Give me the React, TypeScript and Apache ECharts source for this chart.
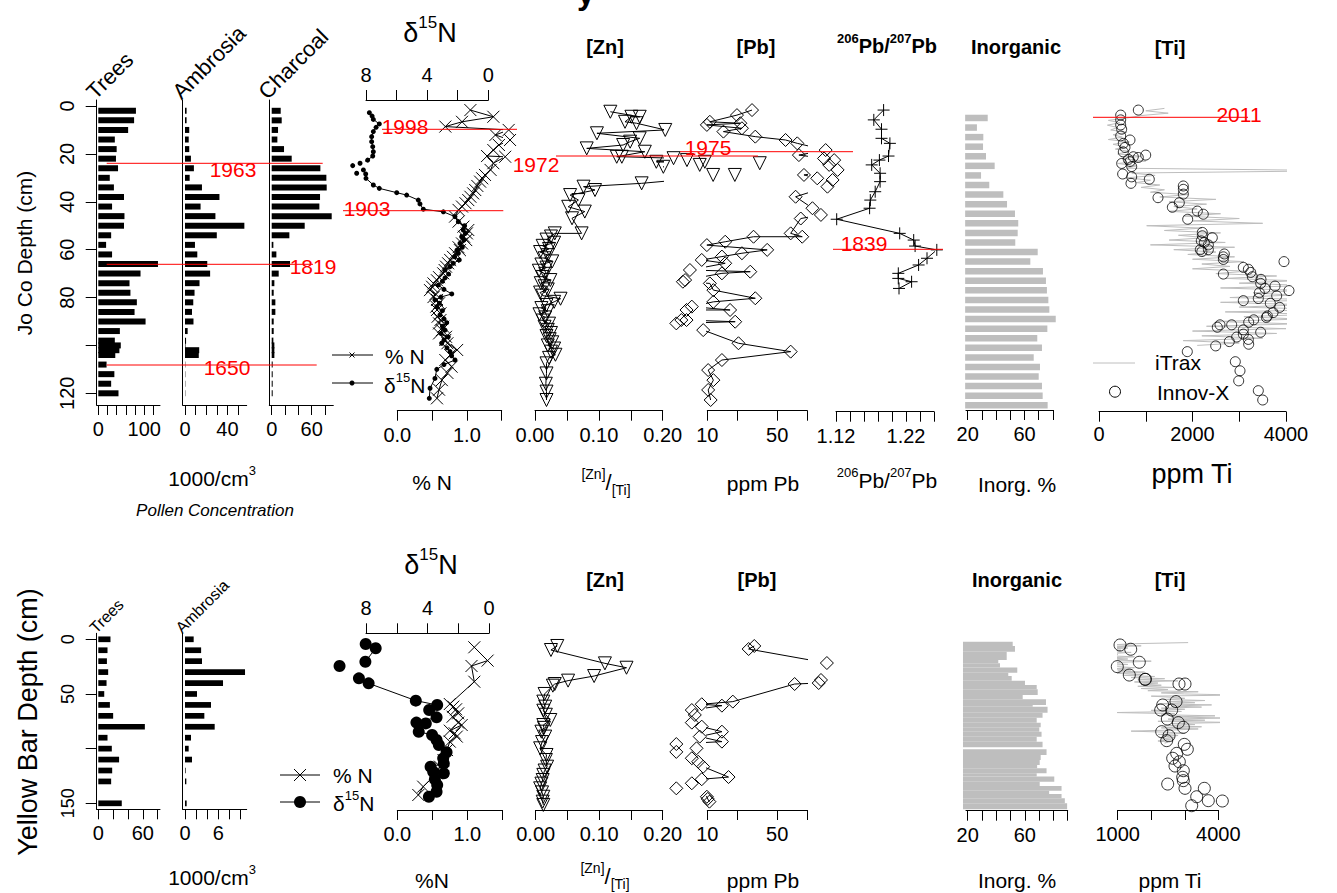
import React, { useEffect, useRef } from "react";
import * as echarts from "echarts";

const FONT = "'Liberation Sans', Arial, Helvetica, sans-serif";

// ================= Jo Co (top row) =================
const joPollenDepth = [2, 6, 10, 14, 18, 22, 26, 30, 34, 38, 42, 46, 50, 54, 58, 62, 66, 70, 74, 78, 82, 86, 90, 94, 98, 100, 102, 104, 108, 112, 116, 120];
const joTrees = [82, 78, 65, 36, 40, 38.5, 43, 25, 34, 56, 30, 57, 56, 28, 17, 30, 130, 92, 68, 70, 84, 79, 103, 47, 36, 49, 46, 37, 18, 35, 28, 44];
const joAmbrosia = [1.5, 1.5, 4, 3.5, 4, 5.6, 8.4, 4.4, 16, 32.5, 14.7, 28.7, 56, 30, 9.4, 11.6, 21, 23.7, 13.7, 9, 7.8, 6.6, 8, 2.5, 1, 0.5, 13.4, 13, 0.3, 0.3, 0.3, 0.3];
const joCharcoal = [13.5, 15, 9.5, 8.5, 18.5, 30, 73, 82, 82.5, 72.5, 71.5, 90, 49.5, 26.5, 2.5, 7, 27.5, 10.5, 4, 3, 5.5, 5.5, 3, 3, 2.5, 4, 4, 4, 1.5, 1.5, 1.5, 1.5];

const joD15NDepth = [2.8, 4.2, 5.6, 7.5, 8.9, 10.7, 12.8, 14.9, 17.0, 19.1, 20.9, 22.6, 23.9, 24.9, 26.7, 28.1, 28.4, 30.2, 33.0, 34.4, 36.2, 37.2, 39.3, 40.9, 43.1, 44.2, 46.2, 48.3, 50.0, 51.8, 53.2, 54.6, 56.0, 57.4, 59.0, 60.2, 61.5, 63.0, 64.3, 65.7, 67.1, 68.5, 70.2, 71.8, 73.2, 74.8, 76.6, 78.5, 79.8, 81.0, 82.4, 83.8, 85.5, 87.3, 88.9, 90.5, 92.0, 93.6, 95.0, 96.4, 97.8, 99.1, 101.0, 102.6, 104.3, 106.1, 108.0, 110.0, 113.8, 117.9, 122.1];
const joD15N = [7.78, 7.6, 7.52, 7.13, 7.34, 7.52, 7.63, 7.63, 7.56, 7.52, 7.56, 7.89, 8.39, 8.87, 8.17, 8.61, 8.02, 8.0, 7.52, 7.13, 5.99, 5.34, 4.58, 4.47, 4.25, 2.94, 2.18, 1.96, 1.55, 1.64, 1.5, 1.74, 1.6, 1.85, 1.7, 2.05, 1.96, 2.2, 1.9, 2.29, 2.5, 2.83, 2.6, 2.83, 3.0, 3.27, 2.9, 2.39, 3.1, 3.49, 3.2, 3.37, 3.0, 3.16, 2.9, 2.72, 3.0, 2.83, 3.1, 2.62, 2.9, 3.05, 2.7, 2.5, 2.4, 2.18, 2.9, 3.37, 3.49, 3.81, 3.86];

const joNDepth = [1.7, 4.5, 6.6, 8.6, 10.0, 12.1, 14.2, 16.3, 18.4, 20.9, 21.2, 23.9, 26.7, 28.8, 30.2, 31.6, 33.4, 35.1, 36.5, 37.9, 39.3, 40.6, 42.0, 43.4, 46.2, 48.3, 50.4, 51.8, 53.2, 54.6, 56.0, 57.4, 59.0, 60.2, 61.5, 63.0, 64.3, 65.7, 67.1, 68.5, 69.9, 71.5, 72.8, 74.1, 75.5, 76.9, 78.5, 79.8, 81.0, 82.4, 83.8, 85.2, 86.6, 88.0, 89.4, 90.8, 92.2, 93.6, 95.0, 96.4, 97.7, 99.1, 101.9, 104.0, 106.1, 108.9, 111.5, 114.5, 118.5, 122.1];
const joN = [1.05, 1.38, 0.93, 0.69, 1.6, 1.41, 1.62, 1.46, 1.38, 1.29, 1.55, 1.38, 1.34, 1.26, 1.22, 1.19, 1.15, 1.12, 1.09, 1.05, 1.02, 0.98, 0.93, 0.88, 0.83, 0.88, 0.95, 1.02, 1.0, 0.96, 0.99, 0.93, 0.88, 0.9, 0.83, 0.8, 0.76, 0.73, 0.7, 0.68, 0.66, 0.6, 0.57, 0.52, 0.5, 0.47, 0.55, 0.52, 0.57, 0.6, 0.56, 0.57, 0.62, 0.58, 0.62, 0.6, 0.66, 0.64, 0.6, 0.7, 0.69, 0.72, 0.86, 0.76, 0.69, 0.78, 0.72, 0.64, 0.6, 0.57];

const joZnDepth = [2.4, 4.5, 4.5, 6.6, 7.2, 10.0, 11.4, 13.5, 14.9, 16.3, 17.7, 19.1, 21.2, 21.2, 21.8, 22.6, 23.3, 23.3, 23.9, 24.6, 25.4, 28.8, 28.8, 32.3, 33.7, 35.1, 37.2, 39.3, 42.1, 44.1, 46.9, 53.2, 53.2, 54.5, 55.8, 57.1, 58.4, 59.7, 61.0, 62.3, 63.6, 64.9, 66.2, 67.5, 68.8, 70.1, 71.4, 72.7, 74.0, 75.3, 76.6, 77.9, 79.2, 80.5, 81.8, 83.1, 84.4, 85.7, 87.0, 88.3, 89.6, 90.9, 92.2, 93.5, 94.8, 96.1, 97.4, 98.7, 100.0, 101.3, 102.6, 103.9, 105.2, 107.5, 111.7, 116.0, 119.3, 122.8];
const joZn = [0.118, 0.164, 0.151, 0.141, 0.159, 0.204, 0.097, 0.164, 0.149, 0.138, 0.081, 0.172, 0.128, 0.136, 0.217, 0.238, 0.266, 0.19, 0.352, 0.258, 0.201, 0.279, 0.313, 0.167, 0.076, 0.094, 0.055, 0.068, 0.052, 0.078, 0.058, 0.073, 0.031, 0.025, 0.018, 0.03, 0.012, 0.022, 0.008, 0.02, 0.015, 0.027, 0.01, 0.018, 0.006, 0.016, 0.012, 0.024, 0.009, 0.015, 0.02, 0.008, 0.012, 0.04, 0.03, 0.018, 0.01, 0.02, 0.007, 0.016, 0.012, 0.022, 0.015, 0.02, 0.025, 0.018, 0.023, 0.027, 0.02, 0.03, 0.025, 0.032, 0.022, 0.018, 0.018, 0.017, 0.018, 0.018];

const joPbDepth = [1.7, 3.8, 6.6, 7.2, 7.9, 9.3, 10.7, 12.8, 14.2, 15.6, 18.4, 20.5, 21.9, 22.6, 24.6, 26.7, 28.8, 30.2, 30.9, 33.7, 37.9, 42.7, 45.5, 47.0, 53.2, 54.6, 54.6, 56.7, 58.1, 60.1, 61.5, 62.9, 64.3, 65.7, 68.5, 69.2, 69.9, 72.7, 73.4, 74.1, 76.9, 80.3, 81.8, 83.8, 85.2, 85.2, 89.4, 89.4, 90.1, 90.8, 93.6, 99.1, 102.6, 106.1, 110.3, 114.5, 118.6, 122.8];
const joPb = [28, 19.8, 10.6, 21.4, 9.9, 22.2, 14.5, 30.2, 60.6, 79.4, 152.6, 82.4, 147, 185.7, 165.5, 201, 92.6, 125.7, 179, 159, 76.4, 112.6, 136.8, 86, 68.2, 89, 29, 15.1, 9.9, 39.7, 22.2, 14, 8.8, 15.1, 6.7, 26.9, 14, 6, 5.7, 10.6, 11.5, 30.2, 11.5, 7, 16.9, 6.2, 5.5, 6.2, 19, 4.9, 9.1, 20.5, 68.2, 14, 10.2, 11.5, 10.2, 10.8];

const joPbRatioDepth = [1.7, 5.8, 9.7, 13.5, 15.6, 20.9, 22.6, 24.6, 28.1, 31.6, 35.8, 39.3, 42.7, 47.3, 53.2, 56.0, 58.5, 60.1, 63.6, 66.4, 69.9, 72.0, 73.4, 76.2];
const joPbRatio = [1.188, 1.174, 1.185, 1.185, 1.197, 1.195, 1.182, 1.171, 1.183, 1.183, 1.176, 1.169, 1.168, 1.121, 1.211, 1.231, 1.233, 1.264, 1.25, 1.238, 1.209, 1.209, 1.228, 1.21];

const joInorgDepth = [5, 9, 13, 17, 21, 25, 29, 33, 37, 41, 45, 49, 53, 57, 61, 65, 69, 73, 77, 81, 85, 89, 93, 97, 101, 105, 109, 113, 117, 121, 125];
const joInorg = [34.1, 26.5, 31, 30.8, 32.9, 39, 29.4, 35.2, 45.1, 47.7, 53.3, 55.6, 55.2, 53.5, 69.3, 64.1, 73, 75.1, 75.8, 76.8, 77.5, 82, 76.1, 69, 72.3, 66.5, 70.9, 70, 72.3, 72.8, 76.3];

const joTiScanDepth = [1, 2, 3, 4, 5, 6, 7, 8, 9, 10, 11, 12, 13, 14, 15, 16, 17, 18, 19, 20, 21, 22, 23, 24, 25, 26, 27, 28, 29, 30, 31, 32, 33, 34, 35, 36, 37, 38, 39, 40, 41, 42, 43, 44, 45, 46, 47, 48, 49, 50, 51, 52, 53, 54, 55, 56, 57, 58, 59, 60, 61, 62, 63, 64, 65, 66, 67, 68, 69, 70, 71, 72, 73, 74, 75, 76, 77, 78, 79, 80, 81, 82, 83, 84, 85, 86, 87, 88, 89, 90, 91, 92, 93, 94, 95, 96, 97, 98, 99, 100];
const joTiScan = [1400, 1000, 1480, 900, 600, 200, 450, 180, 400, 250, 600, 300, 500, 200, 650, 300, 550, 350, 650, 400, 900, 500, 1000, 400, 800, 600, 5300, 700, 1200, 600, 1100, 800, 1300, 900, 1400, 1100, 1900, 1300, 2500, 1500, 2300, 1600, 2100, 1500, 2600, 1800, 3000, 2000, 3500, 1020, 2200, 1400, 2600, 1700, 2300, 1500, 2700, 1100, 2900, 1600, 2500, 1900, 2900, 2000, 3100, 2200, 2800, 2000, 3160, 2500, 3800, 2700, 4200, 3000, 4500, 2600, 4300, 3300, 4100, 2800, 4800, 2600, 4400, 3000, 5000, 2700, 4600, 3100, 4300, 2500, 4200, 2300, 4000, 2000, 3800, 2200, 3500, 1800, 3000, 2100];

const joTiXrfDepth = [1.7, 3.8, 5.8, 7.9, 9.7, 12.5, 14.2, 15.6, 17.3, 19.2, 20.5, 21.2, 21.5, 22.3, 23.2, 24.0, 25.3, 28.4, 29.6, 30.6, 32.3, 33.4, 34.8, 36.8, 38.3, 40.4, 42.3, 43.9, 45.2, 47.3, 52.8, 54.2, 55.0, 56.3, 57.0, 58.0, 60.0, 60.0, 60.8, 61.8, 63.0, 64.1, 65.0, 67.4, 68.2, 69.5, 70.2, 71.3, 72.4, 74.1, 75.2, 76.2, 77.1, 78.0, 79.3, 80.4, 81.3, 82.4, 84.1, 86.3, 87.7, 88.3, 89.3, 90.3, 91.4, 91.4, 92.4, 93.5, 94.5, 95.3, 96.5, 97.5, 98.4, 99.5, 100.2, 102.6, 106.8, 110.6, 114.8, 118.9, 122.8];
const joTiXrf = [841, 464, 464, 464, 485, 464, 663, 520, 556, 520, 999, 734, 841, 627, 663, 485, 699, 506, 699, 1076, 684, 1803, 1804, 1804, 1262, 1718, 1569, 2103, 2231, 1897, 2210, 2210, 2424, 2188, 2253, 2339, 2167, 2339, 2200, 2681, 2660, 2660, 3957, 3087, 3195, 3245, 2660, 3280, 3465, 3458, 3765, 3551, 4064, 3430, 3801, 3408, 3087, 3665, 3865, 3723, 3601, 3580, 3309, 3202, 2838, 2588, 2531, 3087, 3458, 3087, 2945, 3195, 2788, 3202, 2496, 1889, 2916, 3016, 2988, 3408, 3502];

// ================= Yellow Bar (bottom row) =================
const ybPollenDepth = [0, 10, 20, 30, 40, 50, 60, 70, 80, 90, 100, 110, 120, 130, 150];
const ybTrees = [16.4, 12.4, 11.6, 13.3, 11.1, 8, 15.6, 20, 62.7, 12.4, 18.2, 28, 18.7, 17.3, 31.6];
const ybAmbrosia = [1.56, 2.9, 3.06, 10.8, 6.84, 2.16, 4.68, 3.48, 5.34, 1.08, 0.66, 1.26, 0.12, 0.24, 0.3];

const ybD15NDepth = [4.3, 8.2, 20.5, 24.4, 35.7, 40.3, 56.1, 60.1, 64.7, 71.4, 76.2, 76.9, 84.5, 87.5, 92.1, 96.7, 103.4, 108.9, 113.5, 116.5, 121.1, 122.6, 128, 133.3, 139.4, 144];
const ybD15N = [8.02, 7.37, 8.04, 9.72, 8.46, 7.83, 4.76, 3.37, 3.89, 3.41, 4.72, 4.11, 4.57, 3.7, 3.41, 3.26, 2.76, 2.98, 2.94, 3.8, 3.63, 2.94, 3.52, 3.37, 3.41, 3.91];

const ybNDepth = [7.3, 19.5, 24.4, 38.8, 59.2, 61.6, 64, 67.7, 70.8, 76.2, 78.4, 83.6, 86, 89, 93.6, 101.3, 110.4, 116.5, 122.6, 134.8, 142.4];
const ybN = [1.1, 1.29, 1.06, 1.1, 0.75, 0.8, 0.84, 0.87, 0.79, 0.87, 0.92, 0.75, 0.82, 0.85, 0.75, 0.71, 0.66, 0.61, 0.56, 0.37, 0.3];

const ybZnDepth = [6.1, 9.8, 22, 26, 33.6, 37.8, 40.9, 42.4, 50, 57, 61.6, 65.3, 69, 73.8, 78.4, 81, 84.5, 89, 94, 99.7, 105.8, 110.4, 116.5, 120, 124, 128.7, 132, 136.3, 140, 144, 148.5, 151.5];
const ybZn = [0.034, 0.024, 0.109, 0.143, 0.092, 0.051, 0.03, 0.027, 0.014, 0.012, 0.015, 0.012, 0.016, 0.023, 0.012, 0.013, 0.009, 0.015, 0.01, 0.007, 0.017, 0.016, 0.018, 0.014, 0.012, 0.011, 0.009, 0.007, 0.01, 0.012, 0.011, 0.012];

const ybPbDepth = [6.1, 8.9, 21.7, 37.2, 40, 40.9, 57, 59.4, 60.7, 64.7, 69.2, 76.2, 79.9, 84.5, 89, 93.6, 95.8, 99.7, 103, 108.8, 112, 116.5, 126, 128, 131.7, 136.3, 144, 146, 148.5];
const ybPb = [29.5, 25.9, 157, 137, 130, 74.7, 18, 8.8, 14, 7, 7.5, 7, 8.8, 14, 8.4, 14, 4.9, 7.8, 4.9, 7, 8.1, 9.1, 16.3, 8.8, 7, 4.9, 9.9, 10.1, 10.5];

const ybInorgTop = [2.2, 6.1, 11.3, 18.9, 22.0, 25.9, 30.5, 33.6, 37.8, 41.8, 45.8, 50.9, 54.9, 60.1, 61.6, 67.1, 71.7, 76.3, 80.5, 84.5, 89.1, 93.6, 100.6, 105.8, 110.4, 115, 118, 122.6, 125.6, 130.2, 134.2, 138.5, 141.5, 145.4, 150];
const ybInorgBottom = [6.1, 11.3, 18.9, 22.0, 25.9, 30.5, 33.6, 37.8, 41.8, 45.8, 50.9, 54.9, 60.1, 61.6, 67.1, 71.7, 76.3, 80.5, 84.5, 89.1, 93.6, 98.8, 105.8, 110.4, 115, 118, 122.6, 125.6, 130.2, 134.2, 138.5, 141.5, 145.4, 150, 155.5];
const ybInorg = [51.5, 53.1, 47.3, 41.4, 42.6, 54.7, 48.4, 50.8, 60.1, 68.3, 69, 58.5, 74.8, 65.5, 75.9, 72.4, 68.3, 71.1, 70.1, 71.7, 68.3, 72.4, 75.2, 71.1, 70.4, 68.6, 75.2, 68.3, 80.6, 70.4, 85.7, 77, 85.7, 88, 89.6];

const ybTiScanDepth = [3, 4, 5, 6, 7, 8, 9, 10, 11, 12, 13, 14, 15, 16, 17, 18, 19, 20, 21, 22, 23, 24, 25, 26, 27, 28, 29, 30, 31, 32, 33, 34, 35, 36, 37, 38, 39, 40, 41, 42, 43, 44, 45, 46, 47, 48, 49, 50, 51, 52, 53, 54, 55, 56, 57, 58, 59, 60, 61, 62, 63, 64, 65, 66, 67, 68, 69, 70, 71, 72, 73, 74, 75, 76, 77, 78, 79, 80, 81, 82, 83, 84, 85, 86, 87, 88, 89, 90, 91, 92, 93, 94, 95];
const ybTiScan = [3100, 1500, 900, 1700, 700, 1300, 600, 1100, 500, 1400, 800, 1000, 600, 1500, 700, 1300, 900, 2000, 1100, 700, 1300, 600, 1000, 1500, 800, 1400, 1000, 1800, 900, 1700, 1200, 2100, 1400, 2400, 1600, 2800, 1500, 2200, 1700, 2300, 1600, 2700, 1700, 2500, 1900, 3400, 2300, 3000, 4650, 2000, 2600, 3000, 2400, 3600, 2500, 3300, 2200, 3800, 2600, 3500, 2300, 3000, 2000, 2900, 900, 2700, 2300, 3900, 2600, 4200, 2500, 3600, 2200, 4400, 2600, 3300, 2400, 3500, 2300, 3400, 2600, 1400, 2500, 3000, 2200, 2800, 2400, 2700, 2300, 2600, 2200, 2500, 2400];

const ybTiXrfDepth = [5.2, 9.1, 21, 25, 32.7, 36.6, 36.6, 40.9, 40.9, 57, 60.1, 64.7, 64.7, 72.9, 76.2, 80.5, 84.5, 88.2, 92.7, 96.1, 100.6, 104.3, 108.8, 112, 115.9, 120.2, 126.2, 129.3, 132.4, 136.3, 136.3, 144, 147.6, 147.9, 152.2];
const ybTiXrf = [1069, 1388, 1644, 988, 1346, 1814, 1829, 2828, 3007, 2739, 2342, 2282, 2610, 2480, 2808, 2957, 2312, 2530, 2461, 2986, 3076, 2760, 2640, 2838, 2709, 2957, 2938, 2957, 2491, 3007, 3583, 3356, 3702, 4120, 3207];

// ================= helpers =================
const JO = { p0: 106, p1: 393.3, v1: 120 };
const YB = { p0: 639.3, p1: 803.3, v1: 150 };
const depthAt = (cal: any, px: number) => ((px - cal.p0) * cal.v1) / (cal.p1 - cal.p0);
const valAt = (p0: number, v0: number, p1: number, v1: number, px: number) => v0 + ((px - p0) * (v1 - v0)) / (p1 - p0);

const SYM = {
  cross: "path://M0,0L10,10M10,0L0,10",
  plus: "path://M5,0L5,10M0,5L10,5",
  tri: "path://M0,0L10,0L5,8.66Z",
  diamond: "path://M5,0L10,5L5,10L0,5Z",
};
const hollow = { color: "rgba(0,0,0,0)", borderColor: "#000", borderWidth: 1 };
const zip = (vals: number[], depths: number[]) => depths.map((d, i) => [vals[i], d]);

function buildOption() {
  const grids: any[] = [];
  const xAxes: any[] = [];
  const yAxes: any[] = [];
  const series: any[] = [];

  function panel(p: any) {
    const i = grids.length;
    grids.push({ left: p.left, top: p.top, width: p.right - p.left, height: p.bottom - p.top, containLabel: false, outerBoundsMode: "none" });
    xAxes.push({
      gridIndex: i,
      type: "value",
      min: p.xmin,
      max: p.xmax,
      inverse: !!p.inverse,
      position: p.pos || "bottom",
      axisLine: { show: true, onZero: false, lineStyle: { color: "#000", width: 1 } },
      axisTick: { show: true, inside: false, length: 10, customValues: p.ticks, lineStyle: { color: "#000", width: 1 } },
      axisLabel: { show: true, customValues: p.labels, formatter: p.fmt, fontSize: p.fs || 20, color: "#000", fontFamily: FONT, margin: p.margin ?? 14 },
      splitLine: { show: false },
      minorTick: { show: false },
    });
    yAxes.push({
      gridIndex: i,
      type: "value",
      min: depthAt(p.cal, p.top),
      max: depthAt(p.cal, p.bottom),
      inverse: true,
      axisLine: { show: !!p.yLine, onZero: false, lineStyle: { color: "#000", width: 1 } },
      axisTick: p.yTicks ? { show: true, inside: false, length: 11, customValues: p.yTicks, lineStyle: { color: "#000", width: 1 } } : { show: false },
      axisLabel: p.yLabels
        ? { show: true, customValues: p.yLabels, rotate: 90, fontSize: p.yfs || 20, color: "#000", fontFamily: FONT, margin: 20 }
        : { show: false },
      splitLine: { show: false },
    });
    return i;
  }

  function bars(ax: number, depths: number[], vals: number[], h: number, color: string, base: number) {
    series.push({
      type: "custom",
      xAxisIndex: ax,
      yAxisIndex: ax,
      clip: false,
      silent: true,
      data: zip(vals, depths),
      encode: { x: 0, y: 1 },
      renderItem: (params: any, api: any) => {
        const v = api.value(0);
        const d = api.value(1);
        const a = api.coord([base, d]);
        const b = api.coord([v, d]);
        return { type: "rect", shape: { x: a[0], y: a[1] - h / 2, width: b[0] - a[0], height: h }, style: { fill: color } };
      },
    });
  }

  function spanBars(ax: number, tops: number[], bottoms: number[], vals: number[], color: string, base: number) {
    series.push({
      type: "custom",
      xAxisIndex: ax,
      yAxisIndex: ax,
      clip: false,
      silent: true,
      data: tops.map((t, i) => [vals[i], t, bottoms[i]]),
      encode: { x: 0, y: [1, 2] },
      renderItem: (params: any, api: any) => {
        const a = api.coord([base, api.value(1)]);
        const b = api.coord([api.value(0), api.value(2)]);
        return { type: "rect", shape: { x: a[0], y: a[1], width: b[0] - a[0], height: b[1] - a[1] }, style: { fill: color } };
      },
    });
  }

  function line(ax: number, data: any[], symbol: string, size: number, itemStyle: any, lineColor = "#000", z = 3) {
    series.push({
      type: "line",
      xAxisIndex: ax,
      yAxisIndex: ax,
      data,
      symbol,
      symbolSize: size,
      showSymbol: symbol !== "none",
      showAllSymbol: true,
      clip: false,
      silent: true,
      z,
      itemStyle,
      lineStyle: { color: lineColor, width: 1 },
    });
  }

  function dots(ax: number, data: any[], size: number) {
    series.push({
      type: "scatter",
      xAxisIndex: ax,
      yAxisIndex: ax,
      data,
      symbol: "circle",
      symbolSize: size,
      clip: false,
      silent: true,
      z: 4,
      itemStyle: hollow,
    });
  }

  const f1 = (v: number) => v.toFixed(1);
  const f2 = (v: number) => v.toFixed(2);
  const fi = (v: number) => String(Math.round(v));
  const fpb = (v: number) => String(Math.round(Math.pow(10, v)));
  const lg = (arr: number[]) => arr.map((v) => Math.log10(v));

  // ---------- TOP ROW ----------
  const tTrees = panel({
    cal: JO, left: 96.7, right: 160, top: 100, bottom: 405,
    xmin: valAt(98.3, 0, 144.2, 100, 96.7), xmax: valAt(98.3, 0, 144.2, 100, 160),
    ticks: [0, 20, 40, 60, 80, 100, 120], labels: [0, 100], fmt: fi,
    yLine: true, yTicks: [0, 20, 40, 60, 80, 100, 120], yLabels: [0, 20, 40, 60, 80, 120], yfs: 20,
  });
  const tAmb = panel({
    cal: JO, left: 182.7, right: 246.7, top: 100, bottom: 405,
    xmin: valAt(185, 0, 227.4, 40, 182.7), xmax: valAt(185, 0, 227.4, 40, 246.7),
    ticks: [0, 10, 20, 30, 40, 50], labels: [0, 40], fmt: fi, yLine: true,
  });
  const tChar = panel({
    cal: JO, left: 269.3, right: 333.3, top: 100, bottom: 405,
    xmin: valAt(271.7, 0, 311.7, 60, 269.3), xmax: valAt(271.7, 0, 311.7, 60, 333.3),
    ticks: [0, 20, 40, 60, 80], labels: [0, 60], fmt: fi, yLine: true,
  });
  const tD15 = panel({
    cal: JO, left: 366, right: 488.3, top: 100, bottom: 405, xmin: 0, xmax: 8, inverse: true, pos: "top",
    ticks: [0, 2, 4, 6, 8], labels: [0, 4, 8], fmt: fi, margin: 15,
  });
  const tN = panel({
    cal: JO, left: 397.3, right: 501.7, top: 100, bottom: 410.7, xmin: 0, xmax: 1.5,
    ticks: [0, 0.5, 1, 1.5], labels: [0, 1], fmt: f1,
  });
  const tZn = panel({
    cal: JO, left: 535, right: 662.7, top: 100, bottom: 410.7, xmin: 0, xmax: 0.2,
    ticks: [0, 0.05, 0.1, 0.15, 0.2], labels: [0, 0.1, 0.2], fmt: f2,
  });
  const tPb = panel({
    cal: JO, left: 707.3, right: 807.3, top: 100, bottom: 410.7, xmin: 1, xmax: 2,
    ticks: [1, Math.log10(20), Math.log10(50), 2], labels: [1, Math.log10(50)], fmt: fpb,
  });
  const tRat = panel({
    cal: JO, left: 836, right: 934, top: 100, bottom: 411.7, xmin: 1.12, xmax: 1.26,
    ticks: [1.12, 1.14, 1.16, 1.18, 1.2, 1.22, 1.24, 1.26], labels: [1.12, 1.22], fmt: f2,
  });
  const tInorg = panel({
    cal: JO, left: 966, right: 1053.3, top: 100, bottom: 410,
    xmin: valAt(967.7, 20, 1052.9, 80, 966), xmax: valAt(967.7, 20, 1052.9, 80, 1053.3),
    ticks: [20, 30, 40, 50, 60, 70, 80], labels: [20, 60], fmt: fi,
  });
  const tTi = panel({
    cal: JO, left: 1099, right: 1286, top: 100, bottom: 411.7, xmin: 0, xmax: 4000,
    ticks: [0, 1000, 2000, 3000, 4000], labels: [0, 2000, 4000], fmt: fi, margin: 12,
  });

  bars(tTrees, joPollenDepth, joTrees, 6, "#000", 0);
  bars(tAmb, joPollenDepth, joAmbrosia, 6, "#000", 0);
  bars(tChar, joPollenDepth, joCharcoal, 6, "#000", 0);
  line(tN, zip(joN, joNDepth), SYM.cross, 12, hollow);
  line(tD15, zip(joD15N, joD15NDepth), "circle", 5, { color: "#000" });
  line(tZn, zip(joZn, joZnDepth), SYM.tri, 13, hollow);
  line(tPb, zip(lg(joPb), joPbDepth), SYM.diamond, 13, hollow);
  line(tRat, zip(joPbRatio, joPbRatioDepth), SYM.plus, 12, hollow);
  bars(tInorg, joInorgDepth, joInorg, 6.5, "#bebebe", 18.2);
  line(tTi, zip(joTiScan, joTiScanDepth), "none", 0, { color: "#bebebe" }, "#bebebe", 2);
  dots(tTi, zip(joTiXrf, joTiXrfDepth), 10);

  // ---------- BOTTOM ROW ----------
  const bTrees = panel({
    cal: YB, left: 96.7, right: 160, top: 633.3, bottom: 809.3,
    xmin: valAt(98.3, 0, 142.85, 60, 96.7), xmax: valAt(98.3, 0, 142.85, 60, 160),
    ticks: [0, 20, 40, 60, 80], labels: [0, 60], fmt: fi,
    yLine: true, yTicks: [0, 50, 100, 150], yLabels: [0, 50, 150], yfs: 18,
  });
  const bAmb = panel({
    cal: YB, left: 182.7, right: 246.7, top: 633.3, bottom: 809.3,
    xmin: valAt(185, 0, 218.35, 6, 182.7), xmax: valAt(185, 0, 218.35, 6, 246.7),
    ticks: [0, 2, 4, 6, 8, 10], labels: [0, 6], fmt: fi, yLine: true,
  });
  const bD15 = panel({
    cal: YB, left: 366, right: 489, top: 633.3, bottom: 809, xmin: 0, xmax: 8, inverse: true, pos: "top",
    ticks: [0, 2, 4, 6, 8], labels: [0, 4, 8], fmt: fi, margin: 15,
  });
  const bN = panel({
    cal: YB, left: 397.3, right: 502.3, top: 633.3, bottom: 810, xmin: 0, xmax: 1.5,
    ticks: [0, 0.5, 1, 1.5], labels: [0, 1], fmt: f1,
  });
  const bZn = panel({
    cal: YB, left: 535.7, right: 662.7, top: 633.3, bottom: 810, xmin: 0, xmax: 0.2,
    ticks: [0, 0.05, 0.1, 0.15, 0.2], labels: [0, 0.1, 0.2], fmt: f2,
  });
  const bPb = panel({
    cal: YB, left: 707.3, right: 807.3, top: 633.3, bottom: 810, xmin: 1, xmax: 2,
    ticks: [1, Math.log10(20), Math.log10(50), 2], labels: [1, Math.log10(50)], fmt: fpb,
  });
  const bInorg = panel({
    cal: YB, left: 966, right: 1067.7, top: 633.3, bottom: 810.7,
    xmin: valAt(967.7, 20, 1067.7, 90, 966), xmax: 90,
    ticks: [20, 30, 40, 50, 60, 70, 80, 90], labels: [20, 60], fmt: fi,
  });
  const bTi = panel({
    cal: YB, left: 1117.7, right: 1218.3, top: 633.3, bottom: 810, xmin: 1000, xmax: 4000,
    ticks: [1000, 2000, 3000, 4000], labels: [1000, 4000], fmt: fi,
  });

  bars(bTrees, ybPollenDepth, ybTrees, 5.7, "#000", 0);
  bars(bAmb, ybPollenDepth, ybAmbrosia, 5.7, "#000", 0);
  line(bN, zip(ybN, ybNDepth), SYM.cross, 12, hollow);
  line(bD15, zip(ybD15N, ybD15NDepth), "circle", 12, { color: "#000" });
  line(bZn, zip(ybZn, ybZnDepth), SYM.tri, 13, hollow);
  line(bPb, zip(lg(ybPb), ybPbDepth), SYM.diamond, 13, hollow);
  spanBars(bInorg, ybInorgTop, ybInorgBottom, ybInorg, "#bebebe", 16.7);
  line(bTi, zip(ybTiScan, ybTiScanDepth), "none", 0, { color: "#bebebe" }, "#bebebe", 2);
  dots(bTi, zip(ybTiXrf, ybTiXrfDepth), 12);

  // ---------- graphic annotations ----------
  const G: any[] = [];
  const txt = (x: number, y: number, text: string, o: any = {}) =>
    G.push({
      type: "text", x, y, rotation: o.rot || 0, z: 20, silent: true,
      style: {
        text, fill: o.color || "#000", fontSize: o.size || 21, fontFamily: FONT,
        fontWeight: o.bold ? "bold" : "normal", fontStyle: o.italic ? "italic" : "normal",
        align: o.align || "center", verticalAlign: o.va || "middle", rich: o.rich,
      },
    });
  const seg = (x1: number, y1: number, x2: number, y2: number, color = "#000", w = 1) =>
    G.push({ type: "line", z: 15, silent: true, shape: { x1, y1, x2, y2 }, style: { stroke: color, lineWidth: w } });
  const supRich = (size: number, sub: number, bold = false) => {
    const fw = bold ? "bold" : "normal";
    return {
      n: { fontSize: size, fontFamily: FONT, fontWeight: fw, lineHeight: Math.round(size * 1.4), fill: "#000" },
      s: { fontSize: sub, fontFamily: FONT, fontWeight: fw, lineHeight: sub, verticalAlign: "top", fill: "#000" },
    };
  };
  const znRich = {
    n: { fontSize: 22, fontFamily: FONT, lineHeight: 30, fill: "#000" },
    s: { fontSize: 14, fontFamily: FONT, lineHeight: 14, verticalAlign: "top", fill: "#000" },
    d: { fontSize: 14, fontFamily: FONT, lineHeight: 14, verticalAlign: "bottom", fill: "#000" },
  };

  // cut-off figure title (only its descender is on the page)
  txt(586, 9, "y", { bold: true, size: 32, va: "bottom" });

  // pollen titles
  const R45 = Math.PI / 4;
  txt(98, 103, "Trees", { rot: R45, align: "left", va: "bottom", size: 22 });
  txt(184, 103, "Ambrosia", { rot: R45, align: "left", va: "bottom", size: 22 });
  txt(270, 103, "Charcoal", { rot: R45, align: "left", va: "bottom", size: 22 });
  txt(98, 636, "Trees", { rot: R45, align: "left", va: "bottom", size: 16 });
  txt(184, 636, "Ambrosia", { rot: R45, align: "left", va: "bottom", size: 16 });

  txt(24, 253, "Jo Co Depth (cm)", { rot: Math.PI / 2, size: 21 });
  txt(28, 722, "Yellow Bar Depth (cm)", { rot: Math.PI / 2, size: 27 });

  txt(212, 478, "{n|1000/cm}{s|3}", { rich: supRich(21, 13) });
  txt(215, 510, "Pollen Concentration", { italic: true, size: 17 });
  txt(212, 877, "{n|1000/cm}{s|3}", { rich: supRich(21, 13) });

  // δ15N / %N
  txt(430, 33, "{n|δ}{s|15}{n|N}", { rich: supRich(27, 17) });
  txt(431, 565, "{n|δ}{s|15}{n|N}", { rich: supRich(27, 17) });
  txt(432, 482, "% N", { size: 21 });
  txt(432, 880, "%N", { size: 21 });

  // top legend (δ15N panel)
  seg(332, 355, 373, 355);
  seg(349.5, 352.5, 354.5, 357.5);
  seg(354.5, 352.5, 349.5, 357.5);
  txt(385, 356, "% N", { align: "left", size: 21 });
  seg(332, 383, 373, 383);
  G.push({ type: "circle", z: 15, silent: true, shape: { cx: 352, cy: 383, r: 2.5 }, style: { fill: "#000" } });
  txt(384, 385, "{n|δ}{s|15}{n|N}", { align: "left", rich: supRich(21, 13) });

  // bottom legend
  seg(280, 775, 320, 775);
  seg(294, 769, 306, 781);
  seg(306, 769, 294, 781);
  txt(333, 775, "% N", { align: "left", size: 21 });
  seg(280, 802, 320, 802);
  G.push({ type: "circle", z: 15, silent: true, shape: { cx: 300, cy: 802, r: 6 }, style: { fill: "#000" } });
  txt(333, 803, "{n|δ}{s|15}{n|N}", { align: "left", rich: supRich(21, 13) });

  // panel titles
  txt(605, 47, "[Zn]", { bold: true, size: 20 });
  txt(605, 580, "[Zn]", { bold: true, size: 20 });
  txt(756, 47, "[Pb]", { bold: true, size: 20 });
  txt(757, 580, "[Pb]", { bold: true, size: 20 });
  txt(887, 46, "{s|206}{n|Pb/}{s|207}{n|Pb}", { rich: supRich(20, 13, true) });
  txt(1016, 47, "Inorganic", { bold: true, size: 20 });
  txt(1017, 580, "Inorganic", { bold: true, size: 20 });
  txt(1170, 48, "[Ti]", { bold: true, size: 20 });
  txt(1170, 580, "[Ti]", { bold: true, size: 20 });

  // axis titles
  txt(606, 482, "{s|[Zn]}{n|/}{d|[Ti]}", { rich: znRich });
  txt(605, 876, "{s|[Zn]}{n|/}{d|[Ti]}", { rich: znRich });
  txt(763, 483, "ppm Pb", { size: 21 });
  txt(763, 880, "ppm Pb", { size: 21 });
  txt(887, 480, "{s|206}{n|Pb/}{s|207}{n|Pb}", { rich: supRich(21, 13) });
  txt(1017, 484, "Inorg. %", { size: 21 });
  txt(1017, 880, "Inorg. %", { size: 21 });
  txt(1192, 474, "ppm Ti", { size: 27 });
  txt(1170, 880, "ppm Ti", { size: 21 });

  // Ti legend
  seg(1093, 363, 1135, 363, "#bebebe");
  txt(1155, 362, "iTrax", { align: "left", size: 21 });
  G.push({ type: "circle", z: 15, silent: true, shape: { cx: 1115, cy: 391.7, r: 5.5 }, style: { fill: "none", stroke: "#000", lineWidth: 1 } });
  txt(1157, 392, "Innov-X", { align: "left", size: 21 });

  // dating horizons
  const RED = "#ff0000";
  seg(382, 129.3, 517, 129.3, RED);
  txt(405, 126, "1998", { color: RED });
  seg(106.7, 163.3, 322.7, 163.3, RED);
  txt(233, 169, "1963", { color: RED });
  seg(343, 210.7, 503.3, 210.7, RED);
  txt(367, 208, "1903", { color: RED });
  seg(106.7, 264.3, 313, 264.3, RED);
  txt(313, 266, "1819", { color: RED });
  seg(106.7, 365, 316.7, 365, RED);
  txt(227, 367, "1650", { color: RED });
  seg(556, 156, 758, 156, RED);
  txt(536, 164, "1972", { color: RED });
  seg(680, 151.7, 853, 151.7, RED);
  txt(708, 147, "1975", { color: RED });
  seg(833, 249.3, 943, 249.3, RED);
  txt(864, 243, "1839", { color: RED });
  seg(1093, 117.3, 1248, 117.3, RED);
  txt(1239, 114, "2011", { color: RED });

  return {
    animation: false,
    backgroundColor: "#ffffff",
    textStyle: { fontFamily: FONT },
    grid: grids,
    xAxis: xAxes,
    yAxis: yAxes,
    series,
    graphic: { elements: G },
  };
}

export default function App() {
  const ref = useRef<HTMLDivElement>(null);
  useEffect(() => {
    document.body.style.margin = "0";
    if (!ref.current) return;
    const chart = echarts.init(ref.current, null, { renderer: "svg" });
    chart.setOption(buildOption() as any);
    return () => chart.dispose();
  }, []);
  return <div ref={ref} style={{ position: "absolute", left: 0, top: 0, width: 1337, height: 893, background: "#fff" }} />;
}
